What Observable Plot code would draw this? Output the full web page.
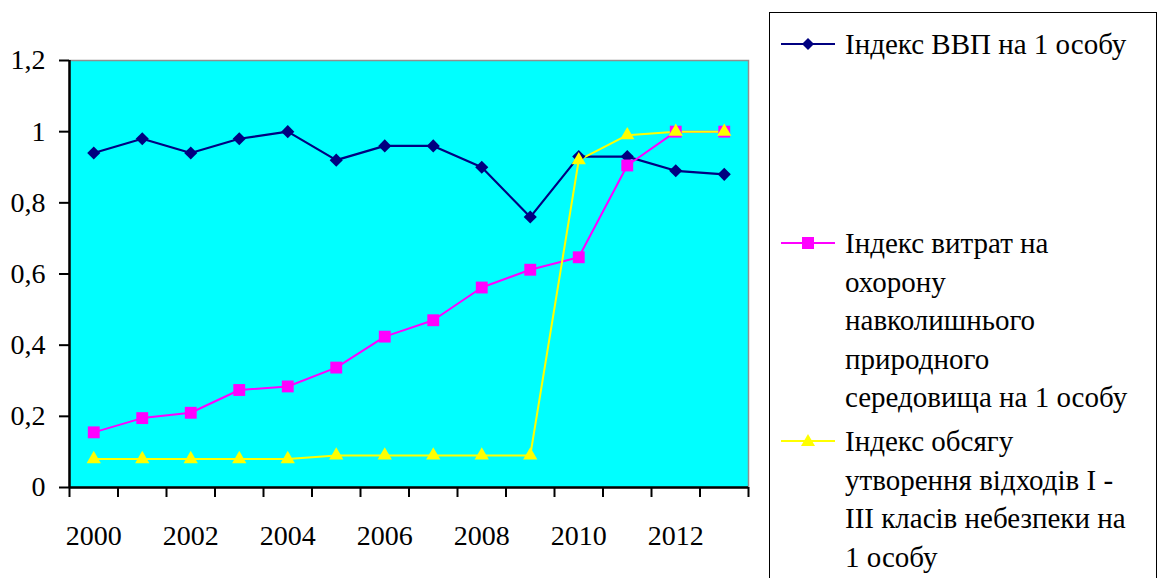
<!DOCTYPE html>
<html>
<head>
<meta charset="utf-8">
<script src="https://cdn.jsdelivr.net/npm/d3@7"></script>
<script src="https://cdn.jsdelivr.net/npm/@observablehq/plot@0.6"></script>
<style>
  html, body { margin: 0; padding: 0; background: #fff; }
  #wrap { position: relative; width: 1158px; height: 578px; overflow: hidden; font-family: "Liberation Serif", "Times New Roman", "Noto Serif", "DejaVu Serif", "FreeSerif", serif; }
  #chart { position: absolute; left: 0; top: 0; }
  #chart svg text { font-family: "Liberation Serif", "Times New Roman", "Noto Serif", "DejaVu Serif", "FreeSerif", serif !important; font-size: 28px !important; fill: #000; }
  #legend { position: absolute; left: 769px; top: 12px; width: 388px; height: 600px; border: 1.5px solid #000; box-sizing: border-box; }
  .entry { position: absolute; left: 0; }
  .entry svg { position: absolute; left: 11px; }
  .entry .txt { position: absolute; left: 75px; font-family: "Liberation Serif", "Times New Roman", "Noto Serif", "DejaVu Serif", "FreeSerif", serif; font-size: 29px; line-height: 38.5px; white-space: nowrap; color: #000; }
</style>
</head>
<body>
<div id="wrap">
  <div id="chart"></div>
  <div id="legend"></div>
</div>
<script>
const years = [2000, 2001, 2002, 2003, 2004, 2005, 2006, 2007, 2008, 2009, 2010, 2011, 2012, 2013];
const gdpIndex = [0.94, 0.98, 0.94, 0.98, 1.0, 0.92, 0.96, 0.96, 0.90, 0.76, 0.93, 0.93, 0.89, 0.88];
const envSpendIndex = [0.155, 0.195, 0.21, 0.274, 0.284, 0.337, 0.424, 0.47, 0.562, 0.612, 0.647, 0.905, 1.0, 1.0];
const wasteIndex = [0.08, 0.08, 0.08, 0.08, 0.08, 0.09, 0.09, 0.09, 0.09, 0.09, 0.92, 0.99, 1.0, 1.0];
const labelYears = [2000, 2002, 2004, 2006, 2008, 2010, 2012];
const yTicks = [0, 0.2, 0.4, 0.6, 0.8, 1, 1.2];
const seriesNames = [
  "Індекс ВВП на 1 особу",
  "Індекс витрат на охорону навколишнього природного середовища на 1 особу",
  "Індекс обсягу утворення відходів І - ІІІ класів небезпеки на 1 особу"
];
const seriesLines = [
  ["Індекс ВВП на 1 особу"],
  ["Індекс витрат на", "охорону", "навколишнього", "природного", "середовища на 1 особу"],
  ["Індекс обсягу", "утворення відходів І -", "ІІІ класів небезпеки на", "1 особу"]
];
const colors = ["#000080", "#ff00ff", "#ffff00"];

const table = years.map((year, i) => ({year, gdp: gdpIndex[i], env: envSpendIndex[i], waste: wasteIndex[i]}));
const boundaries = years.map(y => y - 0.5).concat([years[years.length - 1] + 0.5]);

const chart = Plot.plot({
  width: 760,
  height: 578,
  marginLeft: 69,
  marginRight: 12,
  marginTop: 60,
  marginBottom: 91,
  x: {domain: [boundaries[0], boundaries[boundaries.length - 1]]},
  y: {domain: [0, 1.2]},
  style: {fontFamily: "'Liberation Serif', 'Times New Roman', serif", fontSize: "28px", color: "#000", background: "#fff"},
  marks: [
    Plot.frame({fill: "#00ffff", stroke: "#909090", strokeWidth: 1.5}),
    Plot.axisY({ticks: yTicks, tickFormat: d => String(d).replace(".", ","), tickSize: 10, tickPadding: 14, label: null, strokeWidth: 2}),
    Plot.axisX({ticks: boundaries, tickFormat: () => "", tickSize: 10, label: null, strokeWidth: 2}),
    Plot.axisX({ticks: labelYears, tickFormat: d => String(d), tickSize: 0, tickPadding: 38, label: null}),
    Plot.ruleX([boundaries[0]], {stroke: "#000", strokeWidth: 2.5}),
    Plot.ruleY([0], {stroke: "#000", strokeWidth: 2.5}),
    Plot.line(table, {x: "year", y: "gdp", stroke: colors[0], strokeWidth: 2.2}),
    Plot.line(table, {x: "year", y: "env", stroke: colors[1], strokeWidth: 2}),
    Plot.line(table, {x: "year", y: "waste", stroke: colors[2], strokeWidth: 2}),
    Plot.dot(table, {x: "year", y: "gdp", symbol: "diamond2", r: 5.9, fill: colors[0], stroke: "none"}),
    Plot.dot(table, {x: "year", y: "env", symbol: "square", r: 6.7, fill: colors[1], stroke: "none"}),
    Plot.dot(table, {x: "year", y: "waste", symbol: "triangle", r: 5.3, fill: colors[2], stroke: "none"})
  ]
});
document.getElementById("chart").appendChild(chart);

// legend
const legend = document.getElementById("legend");
const entryTops = [12, 211, 409];
const symbolPaths = [
  "M27,-6 L33,0 L27,6 L21,0 Z",
  "M21,-6 L33,-6 L33,6 L21,6 Z",
  "M27,-7 L34,5 L20,5 Z"
];
seriesLines.forEach((lines, i) => {
  const e = document.createElement("div");
  e.className = "entry";
  e.style.top = entryTops[i] + "px";
  e.innerHTML = `<svg width="56" height="20" viewBox="0 -10 56 20" style="top:${19.25 - 10}px">
      <line x1="0" y1="0" x2="54" y2="0" stroke="${colors[i]}" stroke-width="2"/>
      <path d="${symbolPaths[i]}" fill="${colors[i]}"/>
    </svg>
    <div class="txt">${lines.join("<br>")}</div>`;
  e.title = seriesNames[i];
  legend.appendChild(e);
});
</script>
</body>
</html>
